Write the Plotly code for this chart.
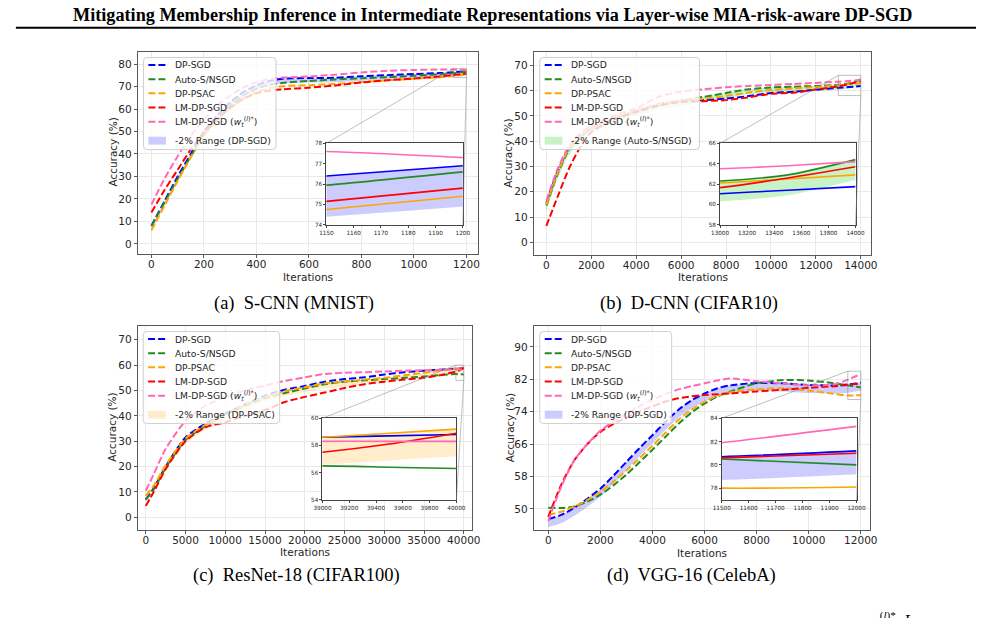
import plotly.graph_objects as go

W, H = 985, 618

NAMES = ["DP-SGD", "Auto-S/NSGD", "DP-PSAC", "LM-DP-SGD",
         "LM-DP-SGD (<i>w</i><sub><i>t</i></sub><sup>(<i>l</i>)*</sup>)"]
COLORS = ["#0000ff", "#228b22", "#ffa500", "#ff0000", "#ff69b4"]

# ---------------- (a) S-CNN (MNIST) ----------------
a_iter = [0, 50, 100, 150, 200, 250, 300, 350, 400, 450, 500, 600, 700, 800, 900, 1000, 1100, 1150, 1200]
a_dpsgd = [8, 19, 30, 40, 50, 57, 63, 67.5, 70.5, 72.5, 73.5, 73.8, 73.9, 74.6, 75.1, 75.6, 76.0, 76.4, 76.9]
a_autos = [8, 18.5, 29, 39, 48.5, 55.5, 61.5, 66, 69, 70.8, 71.6, 72.5, 73.2, 73.7, 74.2, 74.8, 75.5, 75.95, 76.6]
a_psac = [6, 17, 28, 38.5, 48, 55, 60.5, 64.5, 67.5, 69.3, 70.2, 70.6, 71.2, 72.0, 72.8, 73.5, 74.2, 74.75, 75.4]
a_lm = [14, 24, 33, 42, 49.5, 55.5, 60.5, 64.5, 67, 68.3, 68.8, 69.5, 70.5, 71.8, 72.8, 73.6, 74.5, 75.15, 75.8]
a_lmw = [17.5, 29, 39, 48, 55.5, 61.5, 66, 69.5, 72, 73.3, 74, 74.5, 75.3, 76.3, 77.0, 77.4, 77.6, 77.6, 77.3]
a_xticks = [0, 200, 400, 600, 800, 1000, 1200]
a_yticks = [0, 10, 20, 30, 40, 50, 60, 70, 80]
a_ixticks = [1150, 1160, 1170, 1180, 1190, 1200]
a_iyticks = [74, 75, 76, 77, 78]

# ---------------- (b) D-CNN (CIFAR10) ----------------
b_iter = [0, 500, 1000, 1500, 2000, 3000, 4000, 5000, 6000, 7000, 8000, 9000, 10000, 11000, 12000, 13000, 13500, 14000]
b_dpsgd = [15.5, 28, 37, 42, 45, 49, 52, 54.5, 56, 56.2, 56.8, 57.8, 59, 59.5, 60.3, 61.05, 61.4, 61.75]
b_autos = [14.5, 27, 36.5, 41.5, 45, 49, 52, 54.5, 56, 57.5, 59, 60.5, 61.2, 61.5, 61.8, 62.3, 62.9, 64.4]
b_psac = [15, 27.5, 37, 42, 45, 49, 52, 54.5, 56, 56.8, 57.8, 59.2, 60.2, 60.8, 61.4, 62.1, 62.5, 62.9]
b_lm = [6.5, 18, 29, 37.5, 43.5, 48.5, 51.5, 54, 55.5, 55.8, 56.2, 57.3, 58.7, 59.1, 60.4, 61.65, 62.6, 63.7]
b_lmw = [16.5, 29, 38, 43, 46, 50, 53, 57.5, 59.6, 60.5, 61.3, 61.8, 62.2, 62.6, 63.0, 63.5, 63.8, 64.2]
b_xticks = [0, 2000, 4000, 6000, 8000, 10000, 12000, 14000]
b_yticks = [0, 10, 20, 30, 40, 50, 60, 70]
b_ixticks = [13000, 13200, 13400, 13600, 13800, 14000]
b_iyticks = [58, 60, 62, 64, 66]

# ---------------- (c) ResNet-18 (CIFAR100) ----------------
c_iter = [0, 1000, 2500, 5000, 7500, 10000, 12500, 15000, 17500, 20000, 22500, 25000, 27500, 30000, 32500, 35000, 37500, 39000, 39500, 40000]
c_dpsgd = [7, 11.5, 20, 31.5, 37, 41, 44.5, 48, 50.3, 51.8, 53.5, 54.5, 55.2, 56.3, 57.2, 57.8, 58.3, 58.6, 58.7, 58.8]
c_autos = [7, 11, 19.5, 30.5, 36, 40.5, 44, 47, 49, 50.8, 52.5, 53.5, 54, 54.5, 55, 55.5, 56.2, 56.5, 56.4, 56.3]
c_psac = [8.5, 12.5, 20.5, 31, 36.5, 40.8, 44.3, 47.5, 49.8, 51.3, 52.8, 53.5, 54.3, 55, 56, 57, 58, 58.6, 58.9, 59.2]
c_lm = [4.5, 10, 19, 30, 35.5, 37.5, 40, 42.3, 45.5, 47.5, 49.2, 51, 52.5, 53.5, 54.3, 55, 56.3, 57.5, 58.1, 58.9]
c_lmw = [10.5, 17, 27, 38, 44, 47.5, 50, 52, 53.8, 55.2, 56.5, 57, 57.2, 57.5, 57.8, 58, 58.2, 58.3, 58.3, 58.3]
c_xticks = [0, 5000, 10000, 15000, 20000, 25000, 30000, 35000, 40000]
c_yticks = [0, 10, 20, 30, 40, 50, 60, 70]
c_ixticks = [39000, 39200, 39400, 39600, 39800, 40000]
c_iyticks = [54, 56, 58, 60]

# ---------------- (d) VGG-16 (CelebA) ----------------
d_iter = [0, 500, 1000, 1500, 2000, 2500, 3000, 3500, 4000, 4500, 5000, 5500, 6000, 6500, 7000, 8000, 9000, 10000, 11000, 11500, 12000]
d_dpsgd = [47.5, 48.5, 50.3, 52.5, 55, 58.2, 61.6, 65, 68.2, 71.5, 74.5, 76.8, 78.5, 79.8, 80.5, 81.1, 81.0, 80.6, 80.5, 80.7, 81.2]
d_autos = [50.3, 50.2, 50.6, 51.8, 53.5, 55.8, 58.5, 61.5, 64.6, 67.8, 71, 73.8, 76, 77.8, 79, 81, 81.8, 81.7, 81.0, 80.5, 80.0]
d_psac = [48.5, 49.3, 50.6, 52.2, 54.2, 56.7, 59.5, 62.5, 65.6, 68.8, 72, 74.5, 76.5, 77.9, 78.8, 79.5, 79.8, 79.2, 78.4, 78.0, 78.1]
d_lm = [48, 56, 62, 66, 69, 71, 72.5, 74, 75.3, 76.5, 77.3, 77.8, 78.1, 78.3, 78.5, 79, 79.4, 79.9, 80.3, 80.6, 81.0]
d_lmw = [47, 55.5, 62, 66, 69.3, 71.5, 73.5, 75.3, 77, 78.3, 79.5, 80.3, 81, 81.7, 82.2, 81.5, 81, 80.5, 80.8, 81.9, 83.3]
d_xticks = [0, 2000, 4000, 6000, 8000, 10000, 12000]
d_yticks = [50, 58, 66, 74, 82, 90]
d_ixticks = [11500, 11600, 11700, 11800, 11900, 12000]
d_iyticks = [78, 80, 82, 84]

CAPTIONS = ["(a)  S-CNN (MNIST)", "(b)  D-CNN (CIFAR10)",
            "(c)  ResNet-18 (CIFAR100)", "(d)  VGG-16 (CelebA)"]
BAND_LABELS = ["-2% Range (DP-SGD)", "-2% Range (Auto-S/NSGD)",
               "-2% Range (DP-PSAC)", "-2% Range (DP-SGD)"]
TITLE = "Mitigating Membership Inference in Intermediate Representations via Layer-wise MIA-risk-aware DP-SGD"

panels = [
    dict(x=a_iter, ys=[a_dpsgd, a_autos, a_psac, a_lm, a_lmw], band=0,
         band_color="rgba(0,0,255,0.2)",
         box=(131.7, 49, 478, 253), ibox=(323.3, 141.7, 462.3, 224),
         xr=[-50, 1245], yr=[-4.3, 85.6], xt=a_xticks, yt=a_yticks,
         ixr=[1150, 1200], iyr=[74, 78], ixt=a_ixticks, iyt=a_iyticks,
         leg=(137, 55, 272, 148), ytitle_x=105, xtitle_y=277, cap=(290, 303)),
    dict(x=b_iter, ys=[b_dpsgd, b_autos, b_psac, b_lm, b_lmw], band=1,
         band_color="rgba(0,200,0,0.22)",
         box=(535, 49, 878, 254), ibox=(724.3, 141.7, 862.3, 224),
         xr=[-540, 14450], yr=[-4.8, 75.4], xt=b_xticks, yt=b_yticks,
         ixr=[13000, 14000], iyr=[58, 66], ixt=b_ixticks, iyt=b_iyticks,
         leg=(540.7, 55, 703.3, 148), ytitle_x=508, xtitle_y=277, cap=(693, 303)),
    dict(x=c_iter, ys=[c_dpsgd, c_autos, c_psac, c_lm, c_lmw], band=2,
         band_color="rgba(255,165,0,0.2)",
         box=(131.7, 326, 471.7, 531.7), ibox=(319.3, 419.3, 455.7, 501.7),
         xr=[-940, 41040], yr=[-4.8, 75.5], xt=c_xticks, yt=c_yticks,
         ixr=[39000, 40000], iyr=[54, 60], ixt=c_ixticks, iyt=c_iyticks,
         leg=(136.7, 331.7, 275.7, 424.7), ytitle_x=105, xtitle_y=554, cap=(293, 578)),
    dict(x=d_iter, ys=[d_dpsgd, d_autos, d_psac, d_lm, d_lmw], band=0,
         band_color="rgba(0,0,255,0.2)",
         box=(535, 326, 876.7, 531.7), ibox=(726, 419.3, 863.3, 501.7),
         xr=[-540, 12340], yr=[44.9, 95.2], xt=d_xticks, yt=d_yticks,
         ixr=[11500, 12000], iyr=[77, 84], ixt=d_ixticks, iyt=d_iyticks,
         leg=(540.7, 331.7, 675, 424.7), ytitle_x=510, xtitle_y=555, cap=(695, 578)),
]


def px(v):
    return v / W


def py(v):
    return 1 - v / H


FONT = "DejaVu Sans"
SERIF = "Liberation Serif"
AXC = "#595959"
TXT = "#262626"
DASH = "7px,3px"

fig = go.Figure()
layout = dict(width=W, height=H, margin=dict(l=0, r=0, t=0, b=0),
              paper_bgcolor="white", plot_bgcolor="white", showlegend=False)
shapes = []
annotations = []


def to_paper(p, xv, yv):
    x0, y0, x1, y1 = p["box"]
    xd = (px(x0), px(x1))
    yd = (py(y1), py(y0))
    fx = (xv - p["xr"][0]) / (p["xr"][1] - p["xr"][0])
    fy = (yv - p["yr"][0]) / (p["yr"][1] - p["yr"][0])
    return xd[0] + fx * (xd[1] - xd[0]), yd[0] + fy * (yd[1] - yd[0])


def rounded_rect(x0, y0, x1, y1, r=3.5):
    L, R, T, B = px(x0), px(x1), py(y0), py(y1)
    rx, ry = r / W, r / H
    return (f"M {L+rx},{T} L {R-rx},{T} Q {R},{T} {R},{T-ry} "
            f"L {R},{B+ry} Q {R},{B} {R-rx},{B} L {L+rx},{B} "
            f"Q {L},{B} {L},{B+ry} L {L},{T-ry} Q {L},{T} {L+rx},{T} Z")


def axis_common(tickvals, font_size, main, is_x):
    d = dict(tickvals=tickvals, tickformat="d", showline=True, mirror=True,
             linecolor=AXC if main else "#444", linewidth=1, ticks="outside",
             ticklen=3.5 if main else 2, tickcolor=AXC if main else "#444",
             showgrid=main, gridcolor="#e9e9e9", gridwidth=0.8, zeroline=False,
             tickfont=dict(family=FONT, size=font_size, color=TXT))
    if main and is_x:
        d["ticklabelstandoff"] = -3
    return d


for i, p in enumerate(panels):
    m = i + 1
    n = i + 5
    mx, my = ("x" if m == 1 else f"x{m}"), ("y" if m == 1 else f"y{m}")
    ix, iy = f"x{n}", f"y{n}"
    bvals = p["ys"][p["band"]]
    low = [v - 2 for v in bvals]

    for (xa, ya, main) in [(mx, my, True), (ix, iy, False)]:
        fig.add_trace(go.Scatter(x=p["x"], y=low, mode="lines", xaxis=xa, yaxis=ya,
                                 line=dict(width=0, shape="spline", smoothing=0.7),
                                 showlegend=False, hoverinfo="skip"))
        fig.add_trace(go.Scatter(x=p["x"], y=bvals, mode="lines", xaxis=xa, yaxis=ya,
                                 fill="tonexty", fillcolor=p["band_color"],
                                 line=dict(width=0, shape="spline", smoothing=0.7),
                                 name=BAND_LABELS[i], showlegend=False, hoverinfo="skip"))
        for k, (ys, nm, col) in enumerate(zip(p["ys"], NAMES, COLORS)):
            fig.add_trace(go.Scatter(
                x=p["x"], y=ys, mode="lines", xaxis=xa, yaxis=ya, name=nm,
                showlegend=False,
                line=dict(color=col, width=2 if main else 1.6,
                          dash=DASH if main else "solid",
                          shape="spline", smoothing=0.7)))

    x0, y0, x1, y1 = p["box"]
    xkey = "xaxis" if m == 1 else f"xaxis{m}"
    ykey = "yaxis" if m == 1 else f"yaxis{m}"
    layout[xkey] = dict(domain=[px(x0), px(x1)], anchor=my, range=p["xr"],
                        **axis_common(p["xt"], 10.5, True, True))
    layout[ykey] = dict(domain=[py(y1), py(y0)], anchor=mx, range=p["yr"],
                        **axis_common(p["yt"], 10.5, True, False))
    ix0, iy0, ix1, iy1 = p["ibox"]
    layout[f"xaxis{n}"] = dict(domain=[px(ix0), px(ix1)], anchor=iy, range=p["ixr"],
                               **axis_common(p["ixt"], 5.7, False, True))
    layout[f"yaxis{n}"] = dict(domain=[py(iy1), py(iy0)], anchor=ix, range=p["iyr"],
                               **axis_common(p["iyt"], 5.7, False, False))
    # white background for inset
    shapes.append(dict(type="rect", xref=ix, yref=iy, x0=p["ixr"][0], x1=p["ixr"][1],
                       y0=p["iyr"][0], y1=p["iyr"][1], layer="below",
                       fillcolor="white", line=dict(width=0)))
    # indicator rectangle on main axes
    shapes.append(dict(type="rect", xref=mx, yref=my, x0=p["ixr"][0], x1=p["ixr"][1],
                       y0=p["iyr"][0], y1=p["iyr"][1], layer="above",
                       line=dict(color="rgba(128,128,128,0.5)", width=1)))
    # connectors (upper-left and lower-right corners)
    ulx, uly = to_paper(p, p["ixr"][0], p["iyr"][1])
    lrx, lry = to_paper(p, p["ixr"][1], p["iyr"][0])
    shapes.append(dict(type="line", xref="paper", yref="paper", x0=ulx, y0=uly,
                       x1=px(ix0), y1=py(iy0), layer="above",
                       line=dict(color="rgba(128,128,128,0.5)", width=1)))
    shapes.append(dict(type="line", xref="paper", yref="paper", x0=lrx, y0=lry,
                       x1=px(ix1), y1=py(iy1), layer="above",
                       line=dict(color="rgba(128,128,128,0.5)", width=1)))

    # ---- legend (matplotlib style) ----
    lx0, ly0, lx1, ly1 = p["leg"]
    shapes.append(dict(type="path", xref="paper", yref="paper", layer="above",
                       path=rounded_rect(lx0, ly0, lx1, ly1),
                       fillcolor="rgba(255,255,255,0.8)",
                       line=dict(color="#cfcfcf", width=1)))
    row_y = [ly0 + 7.6 + 14.3 * k for k in range(5)] + [ly0 + 84]
    labels = NAMES + [BAND_LABELS[i]]
    for k, lab in enumerate(labels):
        yy = row_y[k]
        if k < 5:
            shapes.append(dict(type="line", xref="paper", yref="paper", layer="above",
                               x0=px(lx0 + 5), x1=px(lx0 + 23), y0=py(yy), y1=py(yy),
                               line=dict(color=COLORS[k], width=2, dash=DASH)))
        else:
            shapes.append(dict(type="rect", xref="paper", yref="paper", layer="above",
                               x0=px(lx0 + 5), x1=px(lx0 + 23), y0=py(yy - 4),
                               y1=py(yy + 4), fillcolor=p["band_color"],
                               line=dict(width=0)))
        annotations.append(dict(text=lab, xref="paper", yref="paper",
                                x=px(lx0 + 30), y=py(yy), showarrow=False,
                                xanchor="left", yanchor="middle",
                                font=dict(family=FONT, size=9.2, color=TXT)))

    annotations.append(dict(text="Iterations", xref="paper", yref="paper",
                            x=px((x0 + x1) / 2), y=py(p["xtitle_y"]), showarrow=False,
                            xanchor="center", yanchor="middle",
                            font=dict(family=FONT, size=10.5, color=TXT)))
    annotations.append(dict(text="Accuracy (%)", xref="paper", yref="paper",
                            x=px(p["ytitle_x"]), y=py((y0 + y1) / 2), showarrow=False,
                            textangle=-90, xanchor="center", yanchor="middle",
                            font=dict(family=FONT, size=10.5, color=TXT)))
    annotations.append(dict(text=CAPTIONS[i], xref="paper", yref="paper",
                            x=px(p["cap"][0]), y=py(p["cap"][1]), showarrow=False,
                            xanchor="center", yanchor="middle",
                            font=dict(family=SERIF, size=18.5, color="black")))

annotations.append(dict(text="<b>" + TITLE + "</b>", xref="paper", yref="paper",
                        x=px(492), y=py(12.5), showarrow=False, xanchor="center",
                        yanchor="middle", font=dict(family=SERIF, size=18.2, color="black")))
annotations.append(dict(text="<i>w</i><sup>(<i>l</i>)*</sup>; <i>L</i>", xref="paper",
                        yref="paper", x=px(898), y=py(610), showarrow=False,
                        xanchor="center", yanchor="top",
                        font=dict(family=SERIF, size=16, color="black")))
shapes.append(dict(type="line", xref="paper", yref="paper", x0=px(7), x1=px(985),
                   y0=py(25), y1=py(25), line=dict(color="black", width=2)))

layout["shapes"] = shapes
layout["annotations"] = annotations
fig.update_layout(**layout)
fig.write_html("out.html")
